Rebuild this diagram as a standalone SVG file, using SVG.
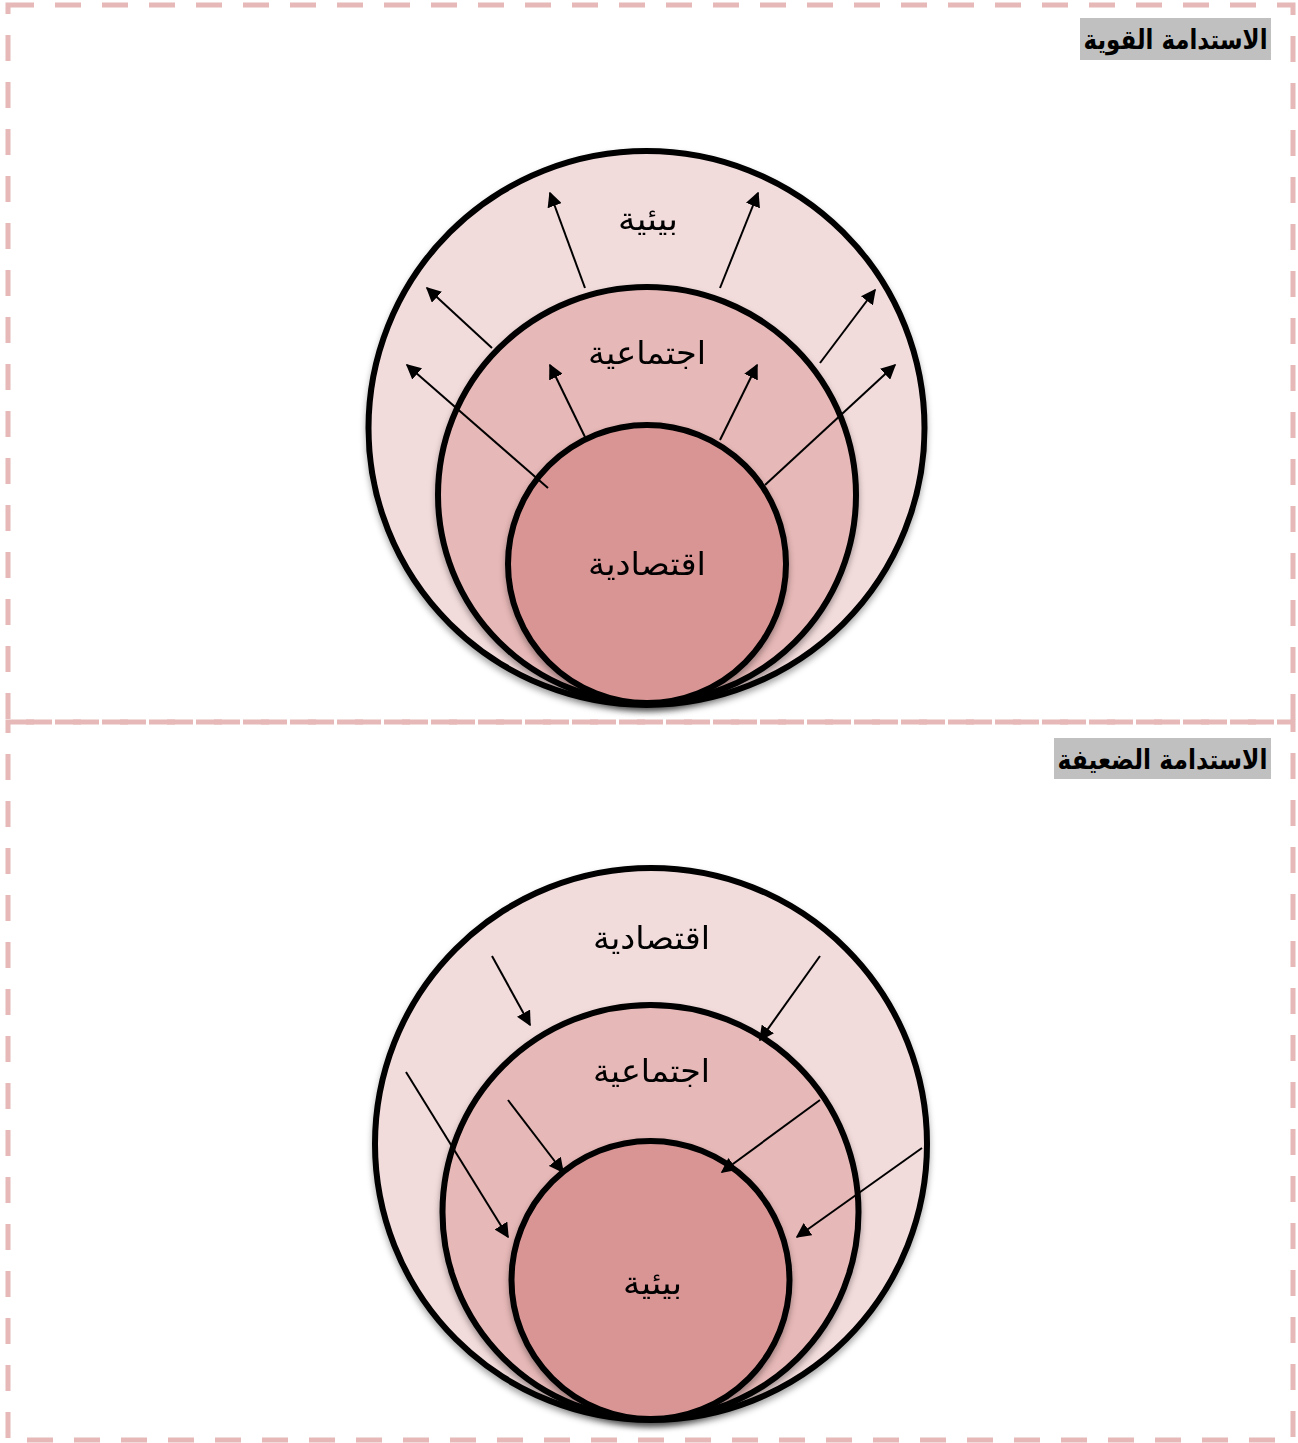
<svg xmlns="http://www.w3.org/2000/svg" width="1298" height="1443" viewBox="0 0 1298 1443">
<style>
.frame{fill:none;stroke:#e6b8b7;stroke-width:5;stroke-dasharray:26 21}
.ring{stroke:#000;stroke-width:6}
.c1{fill:#f2dbdb}.c2{fill:#e6b8b7}.c3{fill:#d99594}
.lbl{font-family:"DejaVu Sans","Liberation Sans",sans-serif;font-size:32px;fill:#000;text-anchor:middle}
.ttl{font-family:"DejaVu Sans","Liberation Sans",sans-serif;font-size:27px;font-weight:bold;fill:#000;text-anchor:middle}
.arr{stroke:#000;stroke-width:2;fill:none;marker-end:url(#ah)}
</style>
<defs>
<marker id="ah" viewBox="0 0 10 10" refX="9" refY="5" markerWidth="7.5" markerHeight="7.5" markerUnits="strokeWidth" orient="auto">
<path d="M0,0 L10,5 L0,10 z" fill="#000"/>
</marker>
<filter id="sh" x="-10%" y="-10%" width="120%" height="125%">
<feDropShadow dx="0" dy="4" stdDeviation="3" flood-color="#000" flood-opacity="0.35"/>
</filter>
</defs>
<g id="frames">
<rect class="frame" x="8" y="5" width="1285" height="717"/>
<rect class="frame" x="8" y="722" width="1285" height="718"/>
</g>
<g id="title-strong">
<rect x="1080" y="18" width="191" height="42" fill="#c0c0c0"/>
<text class="ttl" x="1175.5" y="49" direction="rtl" textLength="184" lengthAdjust="spacingAndGlyphs">الاستدامة القوية</text>
</g>
<g id="title-weak">
<rect x="1054" y="738" width="217" height="41" fill="#c0c0c0"/>
<text class="ttl" x="1162.5" y="769" direction="rtl" textLength="210" lengthAdjust="spacingAndGlyphs">الاستدامة الضعيفة</text>
</g>
<g id="strong-outer" filter="url(#sh)">
<ellipse class="ring c1" cx="646.5" cy="428" rx="278" ry="277"/>
<text class="lbl" x="648" y="230" direction="rtl" textLength="60" lengthAdjust="spacingAndGlyphs">بيئية</text>
</g>
<g id="strong-middle" filter="url(#sh)">
<ellipse class="ring c2" cx="647" cy="495" rx="209" ry="208"/>
<text class="lbl" x="647" y="364" direction="rtl" textLength="118" lengthAdjust="spacingAndGlyphs">اجتماعية</text>
</g>
<g id="strong-inner" filter="url(#sh)">
<circle class="ring c3" cx="647" cy="564" r="139"/>
<text class="lbl" x="647" y="575" direction="rtl" textLength="118" lengthAdjust="spacingAndGlyphs">اقتصادية</text>
</g>
<g id="weak-outer" filter="url(#sh)">
<ellipse class="ring c1" cx="651" cy="1144" rx="276" ry="276"/>
<text class="lbl" x="651.5" y="949" direction="rtl" textLength="117" lengthAdjust="spacingAndGlyphs">اقتصادية</text>
</g>
<g id="weak-middle" filter="url(#sh)">
<ellipse class="ring c2" cx="650.5" cy="1212" rx="208" ry="207"/>
<text class="lbl" x="651.5" y="1082" direction="rtl" textLength="117" lengthAdjust="spacingAndGlyphs">اجتماعية</text>
</g>
<g id="weak-inner" filter="url(#sh)">
<circle class="ring c3" cx="650.5" cy="1280" r="139"/>
<text class="lbl" x="652.5" y="1294" direction="rtl" textLength="59" lengthAdjust="spacingAndGlyphs">بيئية</text>
</g>
<g id="connectors">
<line class="arr" x1="585" y1="288" x2="550" y2="193"/>
<line class="arr" x1="720" y1="288" x2="758" y2="193"/>
<line class="arr" x1="492" y1="348" x2="427" y2="288"/>
<line class="arr" x1="820" y1="363" x2="875" y2="290"/>
<line class="arr" x1="548" y1="488" x2="407" y2="365"/>
<line class="arr" x1="585" y1="437" x2="550" y2="365"/>
<line class="arr" x1="720" y1="440" x2="757" y2="365"/>
<line class="arr" x1="765" y1="485" x2="895" y2="365"/>
<line class="arr" x1="492" y1="956" x2="530" y2="1025"/>
<line class="arr" x1="820" y1="956" x2="760" y2="1040"/>
<line class="arr" x1="406" y1="1072" x2="508" y2="1237"/>
<line class="arr" x1="508" y1="1100" x2="563" y2="1172"/>
<line class="arr" x1="820" y1="1100" x2="722" y2="1172"/>
<line class="arr" x1="922" y1="1148" x2="797" y2="1237"/>
</g>
</svg>
